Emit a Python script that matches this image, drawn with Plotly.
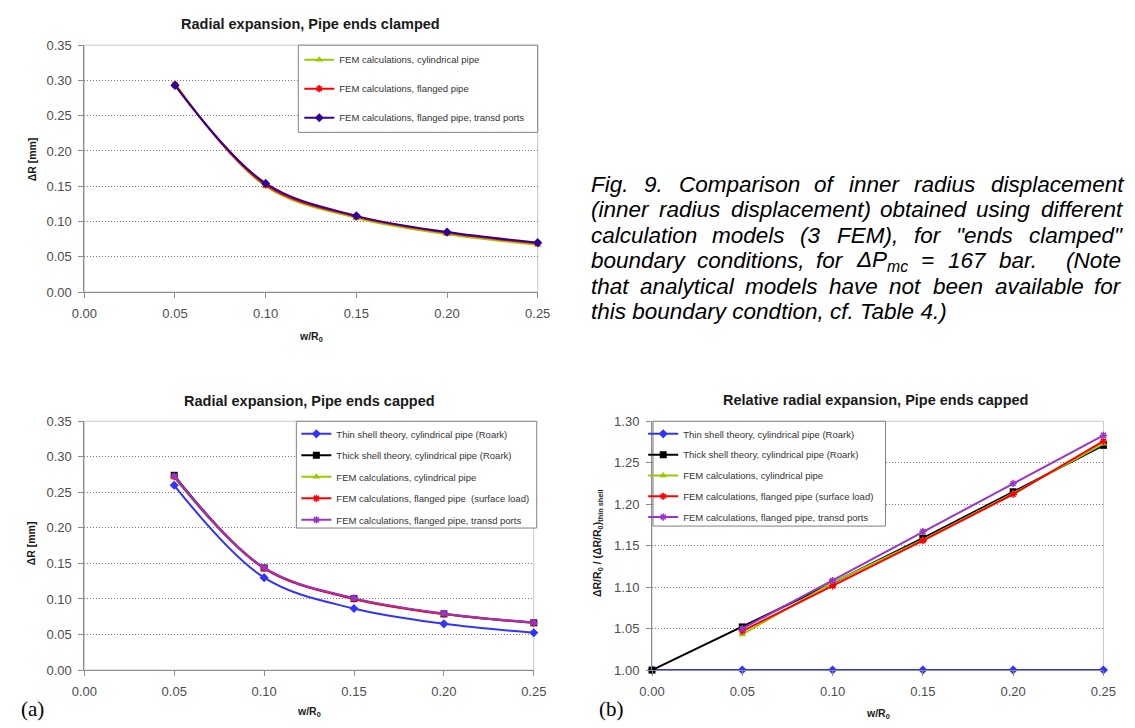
import plotly.graph_objects as go

W, H = 1135, 728

# ---------------- data ----------------
w_top = [0.05, 0.10, 0.15, 0.20, 0.25]
top_fem_cyl = [0.296, 0.150, 0.105, 0.082, 0.067]
top_fem_flanged = [0.294, 0.152, 0.107, 0.084, 0.069]
top_fem_transd = [0.293, 0.154, 0.108, 0.085, 0.070]

w_a = [0.05, 0.10, 0.15, 0.20, 0.25]
a_thin = [0.260, 0.130, 0.0865, 0.065, 0.0525]
a_thick = [0.274, 0.1437, 0.1005, 0.079, 0.0665]
a_fem_cyl = [0.271, 0.1435, 0.1003, 0.0788, 0.0663]
a_fem_flanged = [0.272, 0.1430, 0.1000, 0.0787, 0.0664]
a_fem_transd = [0.273, 0.1440, 0.1012, 0.0796, 0.0668]

w_b_theory = [0.00, 0.05, 0.10, 0.15, 0.20, 0.25]
b_thin = [1.000, 1.000, 1.000, 1.000, 1.000, 1.000]
b_thick = [1.000, 1.052, 1.105, 1.159, 1.215, 1.271]
w_b_fem = [0.05, 0.10, 0.15, 0.20, 0.25]
b_fem_cyl = [1.043, 1.1055, 1.157, 1.213, 1.273]
b_fem_flanged = [1.047, 1.1015, 1.156, 1.212, 1.276]
b_fem_transd = [1.050, 1.108, 1.167, 1.225, 1.283]

x_ticks = [0.00, 0.05, 0.10, 0.15, 0.20, 0.25]

names_top = ["FEM calculations, cylindrical pipe",
             "FEM calculations, flanged pipe",
             "FEM calculations, flanged pipe, transd ports"]
names_bottom = ["Thin shell theory, cylindrical pipe (Roark)",
                "Thick shell theory, cylindrical pipe (Roark)",
                "FEM calculations, cylindrical pipe",
                "FEM calculations, flanged pipe  (surface load)",
                "FEM calculations, flanged pipe, transd ports"]
names_b = ["Thin shell theory, cylindrical pipe (Roark)",
           "Thick shell theory, cylindrical pipe (Roark)",
           "FEM calculations, cylindrical pipe",
           "FEM calculations, flanged pipe (surface load)",
           "FEM calculations, flanged pipe, transd ports"]

titles = ["Radial expansion, Pipe ends clamped",
          "Radial expansion, Pipe ends capped",
          "Relative radial expansion, Pipe ends capped"]

caption_lines = [
    "Fig. 9. Comparison of inner radius displacement",
    "(inner radius displacement) obtained using different",
    "calculation models (3 FEM), for \"ends clamped\"",
    "boundary conditions, for \u0394P<sub>mc</sub> = 167 bar.  (Note",
    "that analytical models have not been available for",
    "this boundary condtion, cf. Table 4.)",
]

# ---------------- helpers ----------------
def px(x):
    return x / W

def py(y):
    return 1 - y / H

BLUE = "#3333FF"
BLACK = "#000000"
GREEN = "#99CC00"
RED = "#FF0000"
INDIGO = "#330099"
PURPLE = "#9933CC"

fig = go.Figure()

def add(x, y, name, color, symbol, size, ax, legend, shape, group):
    open_sym = symbol.endswith("open")
    fig.add_trace(go.Scatter(
        x=x, y=y, name=name, mode="lines+markers",
        line=dict(color=color, width=2, shape=shape, smoothing=1.0),
        marker=dict(symbol=symbol, size=size, color=color,
                    line=dict(color=color, width=1.5 if open_sym else 0)),
        xaxis="x" + ax, yaxis="y" + ax, legend=legend,
        legendgroup=group, cliponaxis=False,
    ))

# top chart
add(w_top, top_fem_cyl, names_top[0], GREEN, "triangle-up", 7, "", "legend", "spline", "t1")
add(w_top, top_fem_flanged, names_top[1], RED, "asterisk-open", 6, "", "legend", "spline", "t2")
add(w_top, top_fem_transd, names_top[2], INDIGO, "diamond", 7, "", "legend", "spline", "t3")

# chart (a)
add(w_a, a_thin, names_bottom[0], BLUE, "diamond", 7, "2", "legend2", "spline", "a1")
add(w_a, a_thick, names_bottom[1], BLACK, "square", 7, "2", "legend2", "spline", "a2")
add(w_a, a_fem_cyl, names_bottom[2], GREEN, "triangle-up", 7, "2", "legend2", "spline", "a3")
add(w_a, a_fem_flanged, names_bottom[3], RED, "asterisk-open", 6, "2", "legend2", "spline", "a4")
add(w_a, a_fem_transd, names_bottom[4], PURPLE, "asterisk-open", 6, "2", "legend2", "spline", "a5")

# chart (b)
add(w_b_theory, b_thin, names_b[0], BLUE, "diamond", 7, "3", "legend3", "linear", "b1")
add(w_b_theory, b_thick, names_b[1], BLACK, "square", 7, "3", "legend3", "linear", "b2")
add(w_b_fem, b_fem_cyl, names_b[2], GREEN, "triangle-up", 7, "3", "legend3", "linear", "b3")
add(w_b_fem, b_fem_flanged, names_b[3], RED, "asterisk-open", 6, "3", "legend3", "linear", "b4")
add(w_b_fem, b_fem_transd, names_b[4], PURPLE, "asterisk-open", 6, "3", "legend3", "linear", "b5")

TICKFONT = dict(family="Liberation Sans, Arial", size=13, color="#4d4d4d")
AXCOL = "#8c8c8c"

def xax(dom, anchor):
    return dict(domain=[px(dom[0]), px(dom[1])], anchor=anchor, range=[0, 0.25],
                tickvals=x_ticks, tickformat=".2f", ticks="outside", ticklen=5,
                tickcolor=AXCOL, showline=True, linecolor=AXCOL, linewidth=1,
                showgrid=False, zeroline=False, tickfont=TICKFONT,
                ticklabelstandoff=4, fixedrange=True)

def yax(dom, anchor, rng, dtick):
    return dict(domain=[py(dom[1]), py(dom[0])], anchor=anchor, range=rng,
                dtick=dtick, tick0=rng[0], tickformat=".2f", ticks="outside", ticklen=5,
                tickcolor=AXCOL, showline=True, linecolor=AXCOL, linewidth=1,
                showgrid=True, gridcolor="#7a7a7a", gridwidth=1, griddash="1px,2px",
                zeroline=False, tickfont=TICKFONT, ticklabelstandoff=4, fixedrange=True)

plots = {"": ((73, 537), (39, 291)), "2": ((73, 533), (423, 677)), "3": ((654, 1116), (423, 677))}

fig.update_layout(
    xaxis=xax(plots[""][0], "y"),
    yaxis=yax(plots[""][1], "x", [0, 0.35], 0.05),
    xaxis2=xax(plots["2"][0], "y2"),
    yaxis2=yax(plots["2"][1], "x2", [0, 0.35], 0.05),
    xaxis3=xax(plots["3"][0], "y3"),
    yaxis3=yax(plots["3"][1], "x3", [1.0, 1.30], 0.05),
)

LEGFONT = dict(family="Liberation Sans, Arial", size=9.5, color="#333333")
def leg(x, y, gap):
    return dict(x=px(x), y=py(y), xanchor="left", yanchor="top", bgcolor="rgba(0,0,0,0)",
                borderwidth=0, font=LEGFONT, tracegroupgap=gap, itemclick=False,
                itemdoubleclick=False)

fig.update_layout(legend=leg(293, 39, 10), legend2=leg(290, 421, 2.5), legend3=leg(645, 421, 1.8))

shapes = []
# light plot borders
for k in ["", "2", "3"]:
    shapes.append(dict(type="rect", xref="x%s domain" % k, yref="y%s domain" % k,
                       x0=0, x1=1, y0=0, y1=1, line=dict(color="#c8c8c8", width=1),
                       layer="below"))
# legend boxes
for (x0, x1, y0, y1) in [(292, 537, 39, 128), (290, 536, 423, 532), (655, 893, 423, 530)]:
    shapes.append(dict(type="rect", xref="paper", yref="paper", x0=px(x0), x1=px(x1),
                       y0=py(y1), y1=py(y0), line=dict(color="#808080", width=1),
                       fillcolor="white", layer="above"))

ann = []
TFONT = dict(family="Liberation Sans, Arial", size=14.5, color="#1a1a1a", weight="bold")
for t, (cx, cy) in zip(titles, [(304, 17), (303, 402), (883, 401)]):
    ann.append(dict(text=t, x=px(cx), y=py(cy), xref="paper", yref="paper",
                    xanchor="center", yanchor="middle", showarrow=False, font=TFONT))

AFONT = dict(family="Liberation Sans, Arial", size=10.5, color="#1a1a1a", weight="bold")
for (cx, cy) in [(305, 337), (303, 720), (885, 722)]:
    ann.append(dict(text="w/R<sub>0</sub>", x=px(cx), y=py(cy), xref="paper", yref="paper",
                    xanchor="center", yanchor="middle", showarrow=False, font=AFONT))
for (cx, cy) in [(19, 156), (18, 548)]:
    ann.append(dict(text="\u0394R [mm]", x=px(cx), y=py(cy), xref="paper", yref="paper",
                    xanchor="center", yanchor="middle", showarrow=False, font=AFONT,
                    textangle=-90))
ann.append(dict(text="\u0394R/R<sub>0</sub> / (\u0394R/R<sub>0</sub>)<sub>thin shell</sub>",
                x=px(598), y=py(548), xref="paper", yref="paper", xanchor="center",
                yanchor="middle", showarrow=False, font=AFONT, textangle=-90))

SFONT = dict(family="Liberation Serif, Times New Roman", size=21, color="#000000")
ann.append(dict(text="(a)", x=px(6), y=py(717), xref="paper", yref="paper", xanchor="left",
                yanchor="middle", showarrow=False, font=SFONT))
ann.append(dict(text="(b)", x=px(598), y=py(717), xref="paper", yref="paper", xanchor="left",
                yanchor="middle", showarrow=False, font=SFONT))

# caption, justified word by word using Arial metrics
AW = {' ': 278, 'a': 556, 'b': 556, 'c': 500, 'd': 556, 'e': 556, 'f': 278, 'g': 556, 'h': 556,
      'i': 222, 'j': 222, 'k': 500, 'l': 222, 'm': 833, 'n': 556, 'o': 556, 'p': 556, 'q': 556,
      'r': 333, 's': 500, 't': 278, 'u': 556, 'v': 500, 'w': 722, 'x': 500, 'y': 500, 'z': 500,
      'A': 667, 'B': 667, 'C': 722, 'D': 722, 'E': 667, 'F': 611, 'G': 778, 'H': 722, 'I': 278,
      'J': 500, 'K': 667, 'L': 556, 'M': 833, 'N': 722, 'O': 778, 'P': 667, 'Q': 778, 'R': 722,
      'S': 667, 'T': 611, 'U': 722, 'V': 667, 'W': 944, 'X': 667, 'Y': 667, 'Z': 611,
      '.': 278, ',': 278, '(': 333, ')': 333, '"': 355, '=': 584, '\u0394': 668, ':': 278}
for d in "0123456789":
    AW[d] = 556

def word_width(word, fs):
    total = 0.0
    scale = 1.0
    i = 0
    while i < len(word):
        if word.startswith("<sub>", i):
            scale = 0.7
            i += 5
            continue
        if word.startswith("</sub>", i):
            scale = 1.0
            i += 6
            continue
        total += AW.get(word[i], 556) * scale
        i += 1
    return total / 1000.0 * fs

CFS = 22.5
CFONT = dict(family="Liberation Sans, Arial", size=CFS, color="#000000", style="italic")
L, R = 591, 1133
line_y = [181, 207, 233, 259, 285, 311]
for li, (line, yy) in enumerate(zip(caption_lines, line_y)):
    if li == len(caption_lines) - 1:
        ann.append(dict(text=line, x=px(L - 2), y=py(yy), xref="paper", yref="paper",
                        xanchor="left", yanchor="middle", showarrow=False, font=CFONT))
        continue
    words = line.split(" ")
    widths = [word_width(w, CFS) for w in words]
    gap = (R - L - sum(widths)) / (len(words) - 1)
    xcur = L
    for w, wd in zip(words, widths):
        if w:
            ann.append(dict(text=w, x=px(xcur - 2), y=py(yy), xref="paper", yref="paper",
                            xanchor="left", yanchor="middle", showarrow=False, font=CFONT))
        xcur += wd + gap

fig.update_layout(
    width=W, height=H, margin=dict(l=0, r=0, t=0, b=0),
    paper_bgcolor="white", plot_bgcolor="white",
    shapes=shapes, annotations=ann, showlegend=True,
)

fig.write_html("out.html", config={"displayModeBar": False},
               post_script="document.body.style.margin='0px';document.body.style.overflow='hidden';")
